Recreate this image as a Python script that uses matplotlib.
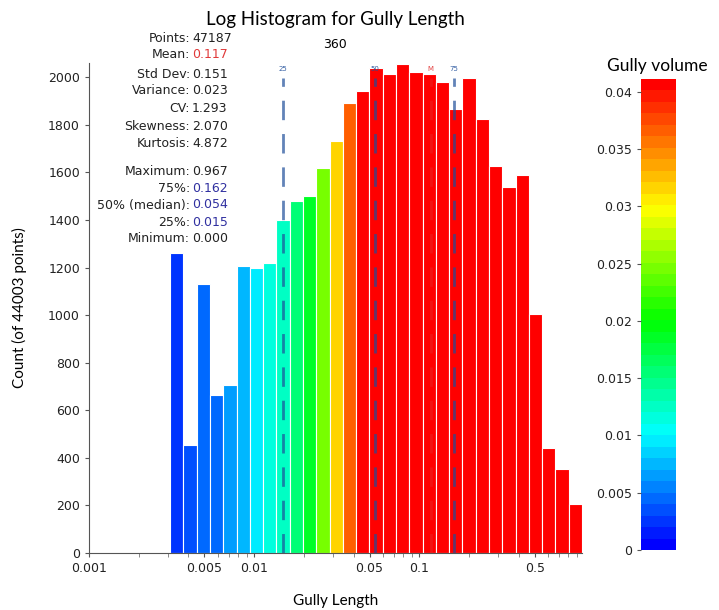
"""Log-binned histogram of gully length, bars coloured by gully volume."""
import numpy as np
from matplotlib import pyplot
from matplotlib import colors

# histogram counts per log bin (lowest bin first)
counts = [1260, 454, 1130, 664, 706, 1206, 1197, 1218, 1399, 1479, 1500,
          1618, 1731, 1891, 1941, 2038, 2013, 2055, 2021, 2013, 1979, 1866,
          1996, 1824, 1626, 1538, 1588, 1004, 441, 353, 206]
# mean gully volume per bin, used for the bar colour
volumes = [0.0025, 0.0038, 0.0041, 0.0050, 0.0066, 0.0078, 0.0100, 0.0118,
           0.0130, 0.0156, 0.0181, 0.0250, 0.0312, 0.0369, 0.0411, 0.0411,
           0.0411, 0.0411, 0.0411, 0.0411, 0.0411, 0.0411, 0.0411, 0.0411,
           0.0411, 0.0411, 0.0411, 0.0411, 0.0411, 0.0411, 0.0411]
bin_lo, bin_hi = 0.0031, 0.967

stat_names = ["Points:", "Mean:", "Std Dev:", "Variance:", "CV:", "Skewness:",
              "Kurtosis:", "Maximum:", "75%:", "50% (median):", "25%:", "Minimum:"]
stat_values = ["47187", "0.117", "0.151", "0.023", "1.293", "2.070",
               "4.872", "0.967", "0.162", "0.054", "0.015", "0.000"]

markers = {"25": 0.015, "50": 0.054, "M": 0.117, "75": 0.162}

xticks = [0.001, 0.005, 0.01, 0.05, 0.1, 0.5]
xticklabels = ["0.001", "0.005", "0.01", "0.05", "0.1", "0.5"]
cticks = [0, 0.005, 0.01, 0.015, 0.02, 0.025, 0.03, 0.035, 0.04]
cticklabels = ["0", "0.005", "0.01", "0.015", "0.02", "0.025", "0.03", "0.035", "0.04"]
vmax = 0.0411

W, H = 719, 610
cmap = colors.LinearSegmentedColormap.from_list(
    "vol", [(0.0, "#0000ff"), (0.01 / vmax, "#00ffff"), (0.02 / vmax, "#00ff00"),
            (0.03 / vmax, "#ffff00"), (1.0, "#ff0000")], N=41)
norm = colors.Normalize(0, vmax)

fig = pyplot.figure(figsize=(W / 100, H / 100), dpi=100)
ax = fig.add_axes([89 / W, 1 - 553 / H, (582 - 89) / W, (553 - 63) / H])

edges = np.logspace(np.log10(bin_lo), np.log10(bin_hi), len(counts) + 1)
ax.bar(edges[:-1], counts, width=np.diff(edges), align="edge",
       color=cmap(norm(np.array(volumes))), edgecolor="white", linewidth=0.8)

ax.set_xscale("log")
ax.set_xlim(0.001, bin_hi)
ax.set_ylim(0, 2060)
ax.set_xticks(xticks)
ax.set_xticklabels(xticklabels)
ax.set_yticks(range(0, 2001, 200))
for side in ("top", "right"):
    ax.spines[side].set_visible(False)
for side in ("left", "bottom"):
    ax.spines[side].set_color("#555555")
ax.tick_params(labelsize=9, length=3, color="#555555", labelcolor="#222222")
ax.tick_params(which="minor", length=3, color="#777777")

# quartile / mean markers
for name, val in markers.items():
    if name == "M":
        col, alpha = "#e03030", 0.4
    else:
        col, alpha = "#1f4e9a", 0.7
    ax.vlines(val, 0, 1996, colors=col, alpha=alpha, linewidth=2,
              linestyles=(0, (7, 5)))
    ax.text(val, 2035, name, color=col, fontsize=5, ha="center", va="center",
            alpha=0.9)

ax.set_xlabel("Gully Length", family="Lato", fontsize=11, labelpad=14)
ax.set_ylabel("Count (of 44003 points)", family="Lato", fontsize=11, labelpad=15)
fig.text(335 / W, 1 - 20 / H, "Log Histogram for Gully Length", family="Lato",
         fontsize=13.5, ha="center", va="center")
fig.text(335 / W, 1 - 45 / H, "360", fontsize=9, ha="center", va="center")

# summary statistics block
rows = [38, 55, 74, 91, 108, 127, 144, 171, 189, 205, 222, 239]
for i, (name, val) in enumerate(zip(stat_names, stat_values)):
    y = 1 - rows[i] / H
    col = "#222222"
    if name == "Mean:":
        col = "#e03a3a"
    elif name in ("75%:", "50% (median):", "25%:"):
        col = "#3030a0"
    fig.text(190 / W, y, name, fontsize=9, ha="right", va="center", color="#222222")
    fig.text(192 / W, y, val, fontsize=9, ha="left", va="center", color=col)

# colour bar
cax = fig.add_axes([641 / W, 1 - 550 / H, 35 / W, (550 - 79) / H])
sm = pyplot.cm.ScalarMappable(norm=norm, cmap=cmap)
cb = fig.colorbar(sm, cax=cax, ticks=cticks)
cb.ax.set_yticklabels(cticklabels)
cb.ax.yaxis.set_ticks_position("left")
cb.outline.set_visible(False)
cb.ax.tick_params(labelsize=9, length=3, color="#555555", labelcolor="#222222")
fig.text(657 / W, 1 - 66 / H, "Gully volume", family="Lato", fontsize=12.5,
         ha="center", va="center")

fig.savefig("out.png", dpi=100)
